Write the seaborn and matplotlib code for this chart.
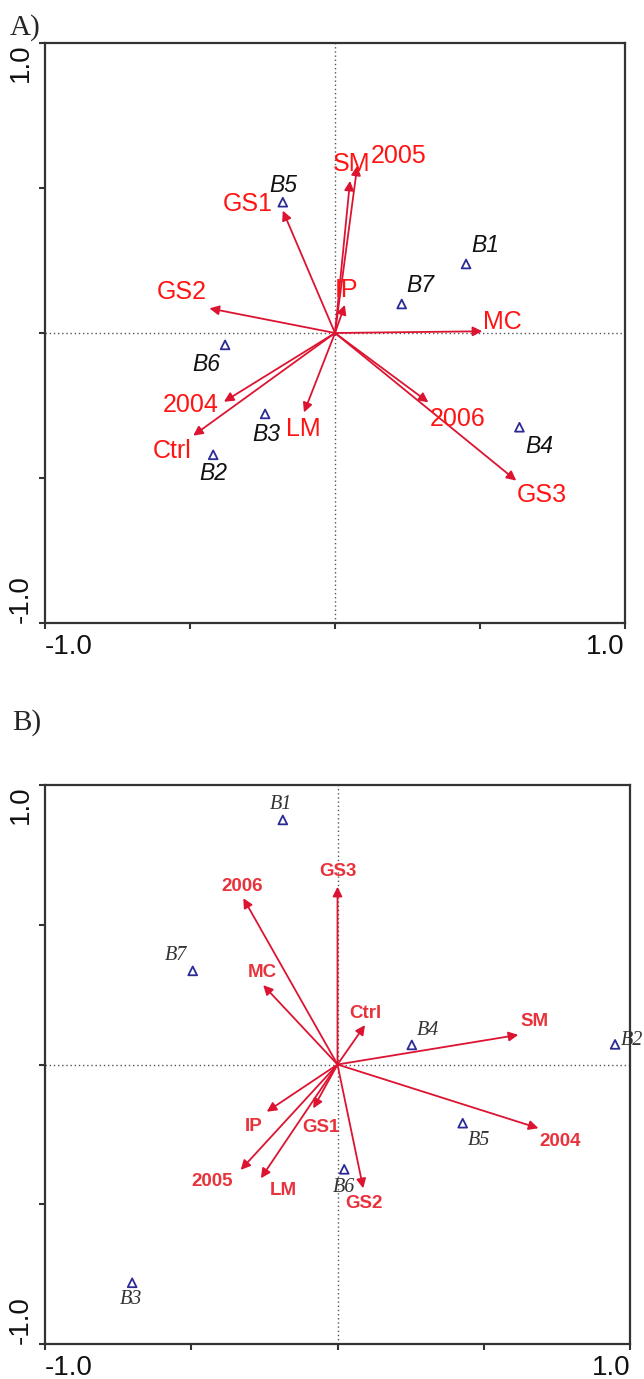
import matplotlib
matplotlib.use("Agg")
import matplotlib.pyplot as plt
import seaborn as sns
import pandas as pd

# ---- Panel A: RDA biplot ----
a_sites = ["B1", "B2", "B3", "B4", "B5", "B6", "B7"]
a_site_x = [0.452, -0.420, -0.241, 0.636, -0.180, -0.379, 0.230]
a_site_y = [0.238, -0.420, -0.279, -0.325, 0.451, -0.041, 0.100]

a_vars = ["GS1", "GS2", "SM", "2005", "IP", "MC", "2006", "GS3", "LM", "2004", "Ctrl"]
a_var_x = [-0.180, -0.433, 0.052, 0.077, 0.034, 0.508, 0.322, 0.625, -0.107, -0.383, -0.489]
a_var_y = [0.422, 0.085, 0.525, 0.577, 0.097, 0.006, -0.239, -0.509, -0.274, -0.237, -0.354]

# ---- Panel B: RDA biplot ----
b_sites = ["B1", "B2", "B3", "B4", "B5", "B6", "B7"]
b_site_x = [-0.187, 0.949, -0.702, 0.254, 0.428, 0.023, -0.495]
b_site_y = [0.875, 0.072, -0.781, 0.070, -0.210, -0.375, 0.335]

b_vars = ["GS3", "Ctrl", "SM", "2004", "GS2", "GS1", "IP", "2005", "LM", "2006", "MC"]
b_var_x = [0.000, 0.094, 0.618, 0.687, 0.088, -0.083, -0.242, -0.331, -0.262, -0.322, -0.254]
b_var_y = [0.636, 0.141, 0.106, -0.228, -0.443, -0.157, -0.169, -0.377, -0.407, 0.595, 0.284]

tick_values = [-1.0, -0.5, 0.0, 0.5, 1.0]
tick_labels = ["-1.0", "", "", "", "1.0"]

# label placement (pixel offsets from the mark)
a_site_off = {"B1": (19, 18), "B2": (0, -19), "B3": (1, -21), "B4": (20, -19),
              "B5": (0, 17), "B6": (-19, -20), "B7": (19, 18)}
a_var_off = {"GS1": (-35, 7), "GS2": (-28, 16), "SM": (1, 17), "2005": (41, 10),
             "IP": (2, 15), "MC": (20, 9), "2006": (29, -17), "GS3": (26, -14),
             "LM": (-1, -17), "2004": (-33, -3), "Ctrl": (-21, -15)}
b_site_off = {"B1": (-2, 15), "B2": (17, 4), "B3": (-1, -17), "B4": (16, 14),
              "B5": (16, -17), "B6": (0, -18), "B7": (-17, 15)}
b_var_off = {"GS3": (0, 15), "Ctrl": (0, 12), "SM": (16, 13), "2004": (22, -13),
             "GS2": (1, -15), "GS1": (8, -19), "IP": (-13, -15), "2005": (-29, -12),
             "LM": (22, -12), "2006": (-1, 12), "MC": (-1, 13)}

sns.set_style("ticks")
plt.rcParams["font.family"] = ["Liberation Sans", "DejaVu Sans"]

ARROW = "#dc1431"
SITE = "#2b2b96"

fig = plt.figure(figsize=(6.44, 13.79), dpi=100)
ax_a = fig.add_axes([45 / 644, 1 - 623 / 1379, 580 / 644, 580 / 1379])
ax_b = fig.add_axes([45 / 644, 1 - 1344 / 1379, 585 / 644, 559 / 1379])


def frame(ax):
    ax.set_xlim(-1, 1)
    ax.set_ylim(-1, 1)
    ax.axhline(0, color="#555555", lw=1.0, ls=(0, (1, 2)), zorder=1)
    ax.axvline(0, color="#555555", lw=1.0, ls=(0, (1, 2)), zorder=1)
    for s in ax.spines.values():
        s.set_color("#333333")
        s.set_linewidth(1.6)
        s.set_visible(True)
    ax.set_xticks(tick_values)
    ax.set_yticks(tick_values)
    ax.set_xticklabels(tick_labels)
    ax.set_yticklabels(tick_labels, rotation=90)
    ax.tick_params(direction="out", length=4, width=1.5, color="#333333",
                   labelsize=20, pad=4, labelcolor="#111111")
    xl = ax.get_xticklabels()
    xl[0].set_horizontalalignment("left")
    xl[-1].set_horizontalalignment("right")
    yl = ax.get_yticklabels()
    yl[0].set_verticalalignment("bottom")
    yl[-1].set_verticalalignment("top")
    ax.set_xlabel("")
    ax.set_ylabel("")


def biplot(ax, sites, sx, sy, soff, vars_, vx, vy, voff, site_font, var_font):
    frame(ax)
    for name, x, y in zip(vars_, vx, vy):
        ax.annotate("", xy=(x, y), xytext=(0, 0),
                    arrowprops=dict(arrowstyle="-|>", color=ARROW, lw=1.3,
                                    mutation_scale=14, shrinkA=0, shrinkB=0),
                    zorder=3)
        ax.annotate(name, xy=(x, y), xytext=voff[name], textcoords="offset pixels",
                    ha="center", va="center", zorder=4, **var_font)
    df = pd.DataFrame({"x": sx, "y": sy, "site": sites})
    sns.scatterplot(data=df, x="x", y="y", ax=ax, marker="^", s=40,
                    facecolors="none", edgecolor=SITE, linewidth=1.3, zorder=5,
                    legend=False)
    for name, x, y in zip(sites, sx, sy):
        ax.annotate(name, xy=(x, y), xytext=soff[name], textcoords="offset pixels",
                    ha="center", va="center", zorder=6, **site_font)
    ax.set_xlabel("")
    ax.set_ylabel("")


biplot(ax_a, a_sites, a_site_x, a_site_y, a_site_off,
       a_vars, a_var_x, a_var_y, a_var_off,
       dict(fontsize=16.5, style="italic", color="#111111"),
       dict(fontsize=18, color="#ff1414"))

biplot(ax_b, b_sites, b_site_x, b_site_y, b_site_off,
       b_vars, b_var_x, b_var_y, b_var_off,
       dict(fontsize=14.5, style="italic", color="#333333",
            family=["Liberation Serif", "DejaVu Serif"]),
       dict(fontsize=13.5, fontweight="bold", color="#e8323c"))

fig.text(10 / 644, 1 - 28 / 1379, "A)", fontsize=21, va="center", ha="left",
         family=["Liberation Serif", "DejaVu Serif"])
fig.text(12 / 644, 1 - 723 / 1379, "B)", fontsize=21, va="center", ha="left",
         family=["Liberation Serif", "DejaVu Serif"])

fig.savefig("out.png", dpi=100)
